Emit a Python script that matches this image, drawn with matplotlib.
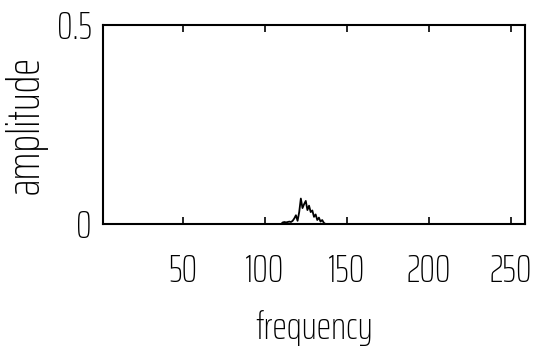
import numpy as np
import matplotlib
matplotlib.use("Agg")
import matplotlib.pyplot as plt
from matplotlib import font_manager

# letra estrecha como la del original; si no esta, DejaVu mas pequeña
familias = set(f.name for f in font_manager.fontManager.ttflist)
if "Saira ExtraCondensed" in familias:
    plt.rcParams['font.family'] = ['Saira ExtraCondensed', 'DejaVu Sans']
    plt.rcParams['font.weight'] = 'light'
    plt.rcParams['axes.labelweight'] = 'light'
    tam, tam_y = 28, 33
else:
    plt.rcParams['font.family'] = ['DejaVu Sans']
    tam, tam_y = 17, 17

# espectro: cero salvo un pequeño bulto alrededor de 110-137
freq_start = 1
freq_end = 256
bump_freqs = [111, 112, 113, 114, 115, 116, 117, 118, 119, 120,
              121, 122, 123, 124, 125, 126, 127, 128, 129, 130,
              131, 132, 133, 134, 135, 136]
bump_amp = [0.004, 0.005, 0.004, 0.005, 0.006, 0.005, 0.008, 0.014, 0.022, 0.008,
            0.030, 0.064, 0.040, 0.050, 0.058, 0.035, 0.046, 0.030, 0.034, 0.018,
            0.024, 0.010, 0.016, 0.006, 0.010, 0.003]

xticks = [50, 100, 150, 200, 250]
yticks = [0, 0.5]
ytick_labels = ["0", "0.5"]

freq = np.arange(freq_start, freq_end + 1)
amp = np.zeros(len(freq))
for f, a in zip(bump_freqs, bump_amp):
    amp[f - freq_start] = a

fig = plt.figure(figsize=(5.4, 3.5), dpi=100)
ax = fig.add_axes([0.1907, 0.36, 0.7815, 0.5686])
ax.plot(freq, amp, color="black", linewidth=1.3)

ax.set_xlim(1.5, 258.5)
ax.set_ylim(0, 0.5)
ax.set_xticks(xticks)
ax.set_yticks(yticks)
ax.set_yticklabels(ytick_labels)

for s in ax.spines.values():
    s.set_linewidth(1.5)

ax.tick_params(axis="x", direction="in", top=True, length=5, width=1.2,
               labelsize=tam, pad=21)
ax.tick_params(axis="y", direction="in", right=True, length=5, width=1.2,
               labelsize=tam, pad=8)

ax.set_xlabel("frequency", fontsize=tam, labelpad=15)
ax.set_ylabel("amplitude", fontsize=tam_y, labelpad=7)

fig.savefig("out.png", dpi=100)
